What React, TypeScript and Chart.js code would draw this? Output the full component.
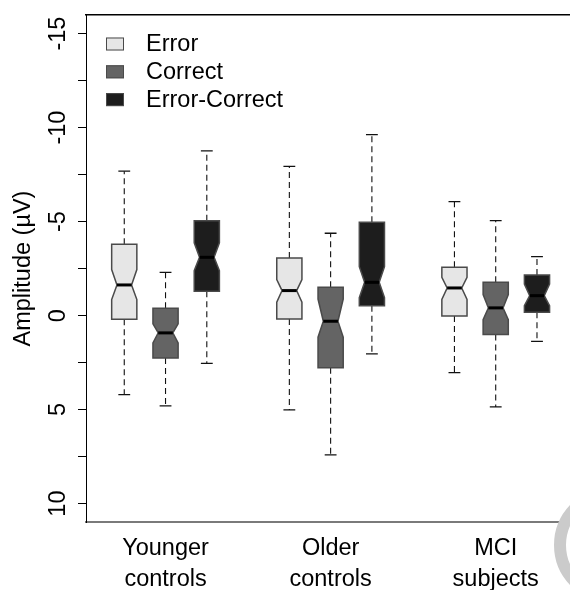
import React, { useEffect, useRef } from 'react';
import { Chart, registerables } from 'chart.js';

Chart.register(...registerables);

// ---------- data ----------
const groupLabels: string[][] = [['Younger', 'controls'], ['Older', 'controls'], ['MCI', 'subjects']];
const groupPositions = [2, 6, 10];
const seriesNames = ['Error', 'Correct', 'Error-Correct'];
const seriesOffsets = [-1, 0, 1];
const seriesColors = ['#e6e6e6', '#646464', '#1d1d1d'];

// amplitudes in µV (negative is drawn upward)
const errorMin = [-7.68, -7.94, -6.06];
const errorQ1 = [-3.8, -3.07, -2.57];
const errorMedian = [-1.63, -1.33, -1.47];
const errorQ3 = [0.2, 0.18, 0.02];
const errorMax = [4.2, 5.02, 3.03];
const errorNotchLo = [-2.45, -1.91, -2.04];
const errorNotchHi = [-0.85, -0.71, -0.86];

const correctMin = [-2.3, -4.38, -5.05];
const correctQ1 = [-0.39, -1.51, -1.77];
const correctMedian = [0.92, 0.3, -0.41];
const correctQ3 = [2.25, 2.78, 1.01];
const correctMax = [4.8, 7.41, 4.86];
const correctNotchLo = [0.44, -0.88, -1.12];
const correctNotchHi = [1.45, 1.15, 0.22];

const ecMin = [-8.76, -9.63, -3.14];
const ecQ1 = [-5.05, -4.96, -2.16];
const ecMedian = [-3.1, -1.77, -1.06];
const ecQ3 = [-1.29, -0.53, -0.18];
const ecMax = [2.54, 2.04, 1.37];
const ecNotchLo = [-3.87, -2.6, -1.68];
const ecNotchHi = [-2.39, -0.95, -0.53];

const yTickValues = [-15, -12.5, -10, -7.5, -5, -2.5, 0, 2.5, 5, 7.5, 10];
const yLabelValues = [-15, -10, -5, 0, 5, 10];
const yTitle = 'Amplitude (\u00b5V)';

const FONT = "'Liberation Sans', Arial, Helvetica, sans-serif";
const FS = 23.5;

const stats = [
  { min: errorMin, q1: errorQ1, med: errorMedian, q3: errorQ3, max: errorMax, nlo: errorNotchLo, nhi: errorNotchHi },
  { min: correctMin, q1: correctQ1, med: correctMedian, q3: correctQ3, max: correctMax, nlo: correctNotchLo, nhi: correctNotchHi },
  { min: ecMin, q1: ecQ1, med: ecMedian, q3: ecQ3, max: ecMax, nlo: ecNotchLo, nhi: ecNotchHi },
];

const BOX_HALF = 0.305; // in position units
const NOTCH_FRAC = 0.58;
const CAP_FRAC = 0.47;

const boxPlugin = {
  id: 'notchedBoxes',
  afterDatasetsDraw(chart: any) {
    const { ctx } = chart;
    const x = chart.scales.x;
    const y = chart.scales.y;
    chart.data.datasets.forEach((ds: any, i: number) => {
      const st = stats[i];
      ds.data.forEach((pt: any, j: number) => {
        const cx = x.getPixelForValue(pt.x);
        const hw = x.getPixelForValue(pt.x + BOX_HALF) - cx;
        const nw = hw * NOTCH_FRAC;
        const cw = hw * CAP_FRAC;
        const pMin = y.getPixelForValue(st.min[j]);
        const pQ1 = y.getPixelForValue(st.q1[j]);
        const pMed = y.getPixelForValue(st.med[j]);
        const pQ3 = y.getPixelForValue(st.q3[j]);
        const pMax = y.getPixelForValue(st.max[j]);
        const pNlo = y.getPixelForValue(st.nlo[j]);
        const pNhi = y.getPixelForValue(st.nhi[j]);
        ctx.save();
        // whiskers
        ctx.strokeStyle = '#111';
        ctx.lineWidth = 1.1;
        ctx.setLineDash([6, 4]);
        ctx.beginPath();
        ctx.moveTo(cx, pQ1);
        ctx.lineTo(cx, pMin);
        ctx.moveTo(cx, pQ3);
        ctx.lineTo(cx, pMax);
        ctx.stroke();
        ctx.setLineDash([]);
        ctx.lineWidth = 1.3;
        ctx.beginPath();
        ctx.moveTo(cx - cw, pMin);
        ctx.lineTo(cx + cw, pMin);
        ctx.moveTo(cx - cw, pMax);
        ctx.lineTo(cx + cw, pMax);
        ctx.stroke();
        // box
        ctx.beginPath();
        ctx.moveTo(cx - hw, pQ1);
        ctx.lineTo(cx + hw, pQ1);
        ctx.lineTo(cx + hw, pNlo);
        ctx.lineTo(cx + nw, pMed);
        ctx.lineTo(cx + hw, pNhi);
        ctx.lineTo(cx + hw, pQ3);
        ctx.lineTo(cx - hw, pQ3);
        ctx.lineTo(cx - hw, pNhi);
        ctx.lineTo(cx - nw, pMed);
        ctx.lineTo(cx - hw, pNlo);
        ctx.closePath();
        ctx.fillStyle = ds.backgroundColor;
        ctx.fill();
        ctx.strokeStyle = '#4a4a4a';
        ctx.lineWidth = 1.5;
        ctx.stroke();
        // median
        ctx.strokeStyle = '#000';
        ctx.lineWidth = 3;
        ctx.beginPath();
        ctx.moveTo(cx - nw, pMed);
        ctx.lineTo(cx + nw, pMed);
        ctx.stroke();
        ctx.restore();
      });
    });
  },
  afterDraw(chart: any) {
    const { ctx, chartArea } = chart;
    const y = chart.scales.y;
    ctx.save();
    // y tick labels (rotated)
    ctx.fillStyle = '#000';
    ctx.font = `${FS}px ${FONT}`;
    ctx.textAlign = 'center';
    ctx.textBaseline = 'alphabetic';
    yLabelValues.forEach((v) => {
      const py = y.getPixelForValue(v);
      ctx.save();
      ctx.translate(chartArea.left - 21, py);
      ctx.rotate(-Math.PI / 2);
      ctx.fillText(String(v), 0, 0);
      ctx.restore();
    });
    // legend
    chart.data.datasets.forEach((ds: any, i: number) => {
      const cy = chartArea.top + 29 + i * 27.8;
      const sx = chartArea.left + 20;
      ctx.fillStyle = ds.backgroundColor;
      ctx.fillRect(sx, cy - 6.5, 18, 13);
      ctx.strokeStyle = '#4a4a4a';
      ctx.lineWidth = 1;
      ctx.strokeRect(sx + 0.5, cy - 6, 17, 12);
      ctx.fillStyle = '#000';
      ctx.textAlign = 'left';
      ctx.textBaseline = 'middle';
      ctx.font = `${FS}px ${FONT}`;
      ctx.fillText(ds.label, chartArea.left + 60, cy + 1);
    });
    // watermark ring partly visible at the corner
    ctx.beginPath();
    ctx.arc(612, 545, 52, 0, Math.PI * 2);
    ctx.strokeStyle = '#cbcbcb';
    ctx.lineWidth = 12;
    ctx.stroke();
    ctx.restore();
  },
};

export default function App() {
  const canvasRef = useRef<HTMLCanvasElement | null>(null);

  useEffect(() => {
    const canvas = canvasRef.current;
    if (!canvas) return;
    const datasets = seriesNames.map((name, i) => ({
      label: name,
      backgroundColor: seriesColors[i],
      borderColor: seriesColors[i],
      pointRadius: 0,
      pointHoverRadius: 0,
      showLine: false,
      data: groupPositions.map((g, j) => ({ x: g + seriesOffsets[i], y: stats[i].med[j] })),
    }));
    const chart = new Chart(canvas, {
      type: 'scatter',
      data: { datasets },
      plugins: [boxPlugin],
      options: {
        animation: false,
        responsive: false,
        events: [],
        layout: { padding: 0 },
        plugins: { legend: { display: false }, tooltip: { enabled: false } },
        scales: {
          x: {
            type: 'linear',
            position: 'bottom',
            min: 0.073,
            max: 11.8,
            afterBuildTicks: (scale: any) => {
              scale.ticks = groupPositions.map((v) => ({ value: v }));
            },
            afterFit: (scale: any) => {
              scale.height = 68;
            },
            grid: { display: false, drawTicks: false },
            border: { display: true, color: '#7a7a7a', width: 2 },
            ticks: {
              autoSkip: false,
              maxRotation: 0,
              minRotation: 0,
              padding: 11.5,
              color: '#000',
              font: { family: FONT, size: FS, lineHeight: 31 / FS },
              callback: (v: any) => {
                const k = groupPositions.indexOf(Number(v));
                return k >= 0 ? groupLabels[k] : '';
              },
            },
          },
          x2: {
            type: 'linear',
            position: 'top',
            min: 0,
            max: 1,
            afterFit: (scale: any) => {
              scale.height = 15;
            },
            grid: { display: false, drawTicks: false },
            border: { display: true, color: '#000', width: 1.5 },
            ticks: { display: false },
          },
          y: {
            type: 'linear',
            reverse: true,
            min: -15.99,
            max: 10.98,
            afterBuildTicks: (scale: any) => {
              scale.ticks = yTickValues.map((v) => ({ value: v }));
            },
            afterFit: (scale: any) => {
              scale.width = 86;
            },
            grid: { display: true, drawOnChartArea: false, drawTicks: true, tickLength: 8, color: '#000', lineWidth: 1 },
            border: { display: true, color: '#000', width: 1 },
            ticks: { display: false },
            title: {
              display: true,
              text: yTitle,
              color: '#000',
              font: { family: FONT, size: FS },
              padding: { top: 9, bottom: 0 },
            },
          },
        },
      } as any,
    });
    return () => chart.destroy();
  }, []);

  return (
    <div style={{ position: 'fixed', left: 0, top: 0, width: 570, height: 590, background: '#fff' }}>
      <canvas ref={canvasRef} width={570} height={590} style={{ display: 'block' }} />
    </div>
  );
}
